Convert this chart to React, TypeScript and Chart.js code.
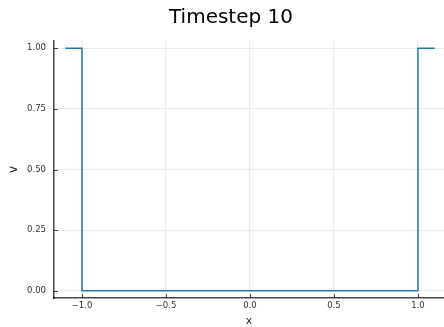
import React, { useEffect, useRef } from "react";
import { Chart, registerables } from "chart.js";

Chart.register(...registerables);

const titleText = "Timestep 10";
const xLabel = "x";
const yLabel = "v";
const xValues = [-1.1, -1.0, -1.0, 1.0, 1.0, 1.1];
const vValues = [1, 1, 0, 0, 1, 1];
const xTicks = [-1.0, -0.5, 0.0, 0.5, 1.0];
const yTicks = [0, 0.25, 0.5, 0.75, 1.0];

const FONT = "'DejaVu Sans', sans-serif";
const SPINE = "rgba(0,0,0,0.72)";

export default function App() {
  const ref = useRef<HTMLCanvasElement | null>(null);

  useEffect(() => {
    if (!ref.current) return;
    const tickMarks = {
      id: "tickMarks",
      afterDatasetsDraw(chart: any) {
        const ctx = chart.ctx;
        const xs = chart.scales.x;
        const ys = chart.scales.y;
        const a = chart.chartArea;
        ctx.save();
        ctx.strokeStyle = SPINE;
        ctx.lineWidth = 1;
        xs.ticks.forEach((t: any) => {
          const px = Math.round(xs.getPixelForValue(t.value)) + 0.5;
          ctx.beginPath();
          ctx.moveTo(px, a.bottom);
          ctx.lineTo(px, a.bottom - 4);
          ctx.stroke();
        });
        ys.ticks.forEach((t: any) => {
          const py = Math.round(ys.getPixelForValue(t.value)) + 0.5;
          ctx.beginPath();
          ctx.moveTo(a.left, py);
          ctx.lineTo(a.left + 4, py);
          ctx.stroke();
        });
        ctx.restore();
      },
      afterDraw(chart: any) {
        const ctx = chart.ctx;
        ctx.save();
        ctx.font = "20px " + FONT;
        ctx.fillStyle = "#000";
        ctx.textAlign = "center";
        ctx.textBaseline = "alphabetic";
        ctx.fillText(titleText, 231, 23);
        ctx.restore();
      },
    };

    const fmt = (v: number, d: number) => v.toFixed(d).replace("-", "\u2212");

    const chart = new Chart(ref.current, {
      type: "line",
      data: {
        datasets: [
          {
            data: xValues.map((x, i) => ({ x, y: vValues[i] })),
            borderColor: "#1f7ba3",
            borderWidth: 1.5,
            pointRadius: 0,
            fill: false,
            tension: 0,
          },
        ],
      },
      options: {
        animation: false,
        responsive: false,
        layout: { padding: { top: 41, left: 0, right: 0, bottom: 0 } },
        plugins: { legend: { display: false }, tooltip: { enabled: false }, title: { display: false } },
        scales: {
          x: {
            type: "linear",
            min: -1.1667,
            max: 1.155,
            afterBuildTicks: (s: any) => {
              s.ticks = xTicks.map((v) => ({ value: v }));
            },
            afterFit: (s: any) => {
              s.height = 29;
            },
            ticks: {
              autoSkip: false,
              maxRotation: 0,
              padding: 3,
              color: "#333",
              font: { family: FONT, size: 8.5 },
              callback: (v: any) => fmt(Number(v), 1),
            },
            grid: { color: "#ebebeb", lineWidth: 1, drawTicks: false },
            border: { display: true, color: SPINE, width: 1.5 },
            title: {
              display: true,
              text: xLabel,
              color: "#222",
              font: { family: FONT, size: 11, lineHeight: 1 },
              padding: { top: 0, bottom: 0 },
            },
          },
          y: {
            type: "linear",
            min: -0.03,
            max: 1.03,
            afterBuildTicks: (s: any) => {
              s.ticks = yTicks.map((v) => ({ value: v }));
            },
            afterFit: (s: any) => {
              s.width = 54;
            },
            ticks: {
              autoSkip: false,
              padding: 8,
              color: "#333",
              font: { family: FONT, size: 8.5 },
              callback: (v: any) => fmt(Number(v), 2),
            },
            grid: { color: "#ebebeb", lineWidth: 1, drawTicks: false },
            border: { display: true, color: SPINE, width: 1.5 },
            title: {
              display: true,
              text: yLabel,
              color: "#222",
              font: { family: FONT, size: 12, lineHeight: 1 },
              padding: { top: 8, bottom: 0 },
            },
          },
        },
      },
      plugins: [tickMarks],
    } as any);
    return () => chart.destroy();
  }, []);

  return (
    <div style={{ position: "fixed", left: 0, top: 0, width: 444, height: 327, background: "#fff" }}>
      <canvas ref={ref} width={444} height={327} style={{ width: 444, height: 327, display: "block" }} />
    </div>
  );
}
